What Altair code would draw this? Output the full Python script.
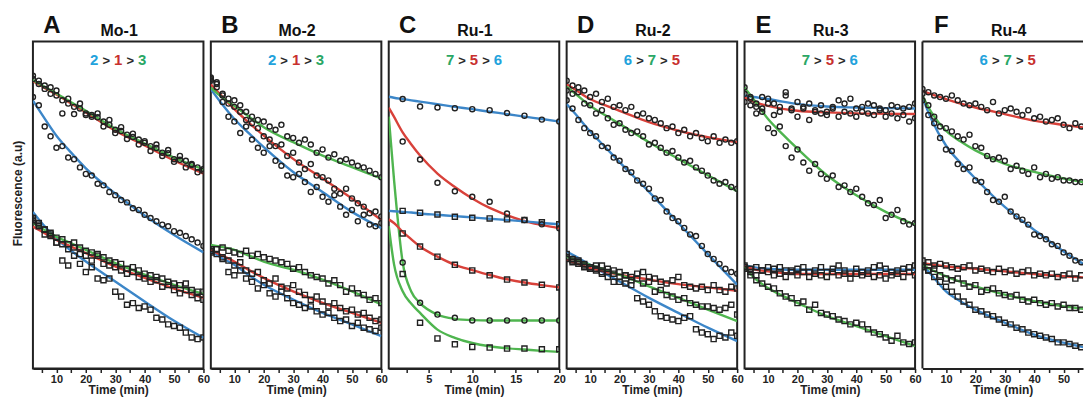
import altair as alt
import pandas as pd

# ---------------- data ----------------
T60 = [2, 5, 10, 15, 20, 30, 40, 50, 60]          # knot times of fitted curves (60-min panels)
TC = [0.4, 1, 2, 3, 4, 6, 8, 10, 12, 14, 16, 18, 20]  # knot times of fitted curves (panel C)
P60 = list(range(2, 61, 2))                       # sampling times of measured points
PC = list(range(2, 21, 2))

TICKS60 = [5, 10, 15, 20, 25, 30, 35, 40, 45, 50, 55, 60]
TICKS20 = [2.5, 5, 7.5, 10, 12.5, 15, 17.5, 20]
TICKS_F = [5, 10, 15, 20, 25, 30, 35, 40, 45, 50, 55]

LETTERS = ["A", "B", "C", "D", "E", "F"]
NAMES = ["Mo-1", "Mo-2", "Ru-1", "Ru-2", "Ru-3", "Ru-4"]
RANKS = [
    [("2", "blue"), ("1", "red"), ("3", "green")],
    [("2", "blue"), ("1", "red"), ("3", "green")],
    [("7", "green"), ("5", "red"), ("6", "blue")],
    [("6", "blue"), ("7", "green"), ("5", "red")],
    [("7", "green"), ("5", "red"), ("6", "blue")],
    [("6", "blue"), ("7", "green"), ("5", "red")],
]

# ----- Panel A (Mo-1) -----
A_fit = {
    "blue_up": [81.9, 77.8, 71.2, 66.0, 61.2, 53.5, 46.8, 40.8, 35.5],
    "red_up": [87.9, 86.3, 83.8, 81.0, 78.3, 72.7, 68.2, 63.6, 59.6],
    "green_up": [88.2, 86.6, 84.1, 81.4, 78.8, 73.3, 68.8, 64.5, 60.9],
    "blue_lo": [47.9, 44.5, 39.7, 36.0, 32.7, 26.6, 20.5, 14.6, 9.4],
    "red_lo": [43.4, 41.9, 39.3, 37.3, 35.3, 31.2, 27.7, 24.4, 21.6],
    "green_lo": [44.4, 42.9, 40.3, 38.3, 36.3, 32.2, 28.7, 25.6, 22.8],
}
A_pts = {
    "blue_up": [83.0, 80.5, 74.0, 71.0, 67.5, 68.0, 64.5, 64.0, 61.5, 59.5, 59.0, 56.5, 56.0, 54.0, 53.0,
                51.5, 50.8, 49.0, 48.5, 47.0, 46.0, 45.0, 44.0, 43.5, 42.0, 41.5, 40.5, 39.5, 38.5, 37.5],
    "red_up": [89.5, 87.0, 86.5, 84.0, 85.0, 82.0, 82.5, 80.0, 81.0, 78.0, 77.5, 76.8, 74.0, 74.5, 72.0,
               72.6, 70.2, 70.8, 68.5, 69.0, 66.5, 67.4, 65.0, 65.8, 63.2, 63.8, 61.5, 62.2, 60.0, 60.5],
    "green_up": [88.5, 88.0, 85.5, 86.0, 83.5, 78.0, 81.0, 77.8, 79.5, 77.5, 77.0, 78.0, 75.5, 76.0, 73.0,
                 73.8, 71.5, 71.8, 70.0, 69.5, 68.0, 68.5, 66.0, 66.8, 64.0, 65.0, 63.5, 62.5, 61.5, 61.0],
    "blue_lo": [45.5, 44.0, 42.5, 41.0, 38.5, 33.0, 31.5, 34.5, 32.0, 29.5, 31.0, 27.5, 27.0, 27.5, 23.5,
                22.0, 19.5, 20.0, 18.5, 19.0, 18.0, 15.5, 15.0, 13.5, 13.0, 12.5, 11.0, 9.5, 9.0, 9.5],
    "red_lo": [45.0, 44.5, 41.0, 40.5, 38.5, 38.0, 36.5, 37.0, 35.0, 34.5, 33.0, 35.0, 32.0, 31.5, 31.0,
               30.0, 29.0, 29.5, 28.0, 27.5, 26.5, 27.0, 25.0, 25.5, 24.0, 23.0, 24.0, 22.5, 21.5, 21.0],
    "green_lo": [46.0, 43.5, 42.5, 41.5, 40.0, 39.5, 38.0, 38.5, 37.0, 36.0, 35.5, 34.5, 34.0, 33.0, 32.5,
                 32.0, 30.5, 31.0, 30.0, 29.0, 28.5, 28.0, 27.5, 26.5, 26.0, 25.5, 26.0, 24.0, 23.5, 23.5],
}

# ----- Panel B (Mo-2) -----
B_fit = {
    "blue_up": [85.4, 81.8, 76.3, 71.9, 67.7, 60.1, 54.0, 47.9, 42.9],
    "red_up": [86.9, 84.0, 79.3, 75.1, 71.2, 64.1, 58.1, 52.0, 45.4],
    "green_up": [85.9, 83.5, 80.3, 77.0, 73.8, 69.2, 65.1, 61.6, 58.1],
    "blue_lo": [35.8, 34.2, 31.7, 28.5, 25.6, 21.1, 17.0, 13.5, 9.9],
    "red_lo": [36.3, 34.9, 32.7, 30.1, 27.7, 23.6, 20.1, 17.0, 14.0],
    "green_lo": [37.8, 37.3, 36.3, 34.5, 32.7, 30.2, 27.2, 23.6, 19.6],
}
B_pts = {
    "blue_up": [88.0, 86.0, 81.5, 77.0, 75.5, 72.0, 74.0, 70.0, 67.5, 66.0, 68.0, 63.5, 62.0, 59.0, 58.5,
                59.5, 57.0, 54.0, 55.5, 52.5, 51.0, 53.0, 49.5, 47.0, 48.5, 45.0, 47.0, 44.0, 43.5, 44.5],
    "red_up": [89.0, 87.5, 84.0, 82.5, 80.0, 78.5, 76.0, 75.0, 73.5, 71.0, 70.0, 68.0, 68.5, 65.0, 66.0,
               63.0, 61.0, 62.5, 59.0, 58.5, 57.5, 55.0, 53.5, 55.0, 52.0, 50.5, 49.5, 47.5, 48.0, 46.5],
    "green_up": [88.5, 87.0, 83.5, 81.0, 82.0, 80.5, 78.5, 77.0, 76.0, 75.5, 74.0, 73.0, 74.5, 71.0, 70.5,
                 69.0, 70.0, 68.5, 66.0, 67.0, 64.5, 65.5, 63.5, 64.0, 63.0, 62.0, 61.5, 60.5, 59.5, 58.5],
    "blue_lo": [36.5, 35.0, 33.5, 29.5, 28.5, 30.0, 27.5, 26.5, 24.5, 25.5, 23.0, 22.0, 23.5, 21.5, 20.0,
                19.5, 18.5, 19.0, 17.5, 16.5, 17.0, 15.5, 14.5, 15.0, 13.0, 14.0, 12.5, 12.0, 11.5, 12.5],
    "red_lo": [36.0, 36.5, 34.0, 33.0, 31.5, 32.5, 30.0, 29.0, 29.5, 27.0, 26.0, 27.5, 25.0, 24.5, 25.5,
               23.5, 22.5, 21.0, 22.0, 20.5, 19.0, 20.0, 18.5, 17.5, 18.0, 16.5, 17.0, 15.5, 14.5, 15.0],
    "green_lo": [35.5, 36.5, 37.0, 36.0, 35.5, 35.0, 36.0, 34.5, 35.0, 34.0, 33.5, 33.0, 32.5, 32.0, 30.5,
                 31.0, 29.5, 28.5, 28.0, 27.5, 26.0, 27.0, 25.5, 23.5, 24.5, 23.0, 22.5, 21.0, 21.5, 20.0],
}

# ----- Panel C (Ru-1) -----
C_fit = {
    "blue_up": [83.1, 82.8, 82.4, 82.0, 81.6, 80.8, 80.0, 79.3, 78.5, 77.8, 77.0, 76.3, 75.5],
    "red_up": [79.8, 77.0, 72.2, 68.5, 65.1, 59.6, 55.5, 52.0, 49.1, 46.9, 45.1, 43.9, 42.9],
    "green_up": [77.0, 58.0, 32.5, 23.5, 20.0, 16.5, 15.2, 14.8, 14.7, 14.7, 14.7, 14.7, 14.7],
    "blue_lo": [48.2, 48.1, 47.9, 47.7, 47.4, 47.0, 46.6, 46.2, 45.8, 45.4, 45.0, 44.5, 44.1],
    "red_lo": [45.6, 44.5, 41.8, 39.5, 37.3, 34.2, 31.7, 30.1, 28.6, 27.3, 26.3, 25.5, 24.8],
    "green_lo": [43.5, 32.0, 23.6, 19.8, 17.0, 11.9, 9.4, 7.8, 6.8, 6.2, 5.8, 5.4, 5.1],
}
C_pts = {
    "blue_up": [82.4, 80.1, 79.8, 79.6, 79.3, 79.0, 78.1, 77.3, 76.1, 75.5],
    "red_up": [69.4, 63.9, 56.8, 54.2, 52.5, 51.0, 47.4, 45.4, 44.1, 42.9],
    "green_up": [32.4, 20.1, 16.5, 15.5, 14.7, 14.7, 14.7, 14.7, 14.7, 14.7],
    "blue_lo": [48.2, 47.6, 47.1, 46.4, 46.1, 45.9, 45.6, 45.4, 44.7, 44.1],
    "red_lo": [41.3, 37.3, 34.2, 31.7, 30.0, 28.5, 27.2, 26.3, 25.6, 24.8],
    "green_lo": [28.9, 14.0, 9.2, 7.4, 6.6, 6.4, 6.1, 6.1, 5.9, 5.9],
}

# ----- Panel D (Ru-2) -----
D_fit = {
    "blue_up": [80.9, 77.8, 72.5, 67.8, 63.1, 54.0, 44.5, 35.0, 25.6],
    "red_up": [86.9, 85.2, 82.4, 80.5, 78.8, 75.3, 72.7, 70.7, 69.2],
    "green_up": [86.2, 84.0, 80.3, 77.5, 74.8, 69.2, 64.1, 59.1, 54.2],
    "blue_lo": [35.8, 34.3, 31.7, 29.1, 26.6, 21.6, 17.0, 12.5, 8.4],
    "red_lo": [33.2, 32.2, 30.7, 29.6, 28.7, 27.2, 25.8, 24.8, 23.8],
    "green_lo": [34.2, 33.2, 31.7, 30.2, 28.7, 25.1, 21.6, 18.0, 14.5],
}
D_pts = {
    "blue_up": [82.0, 79.5, 76.0, 73.5, 72.0, 71.0, 68.0, 67.5, 64.5, 63.5, 61.0, 60.0, 57.5, 56.5, 55.0,
                52.0, 51.5, 48.0, 46.0, 45.0, 43.0, 41.0, 40.5, 37.5, 35.0, 33.5, 32.0, 30.5, 29.5, 29.0],
    "red_up": [88.0, 86.5, 86.0, 85.0, 83.0, 84.0, 81.5, 82.5, 80.0, 80.5, 79.0, 80.0, 77.5, 78.0, 76.5,
               76.0, 75.0, 73.5, 74.0, 72.0, 73.0, 71.0, 72.0, 70.5, 69.5, 71.0, 69.0, 70.0, 69.0, 69.5],
    "green_up": [85.0, 84.0, 84.5, 81.0, 80.5, 78.0, 79.0, 76.5, 74.5, 75.0, 73.0, 72.0, 72.5, 71.0, 68.5,
                 69.0, 67.5, 66.0, 66.5, 64.5, 63.0, 63.5, 61.5, 60.5, 59.0, 57.5, 56.5, 57.0, 55.5, 55.0],
    "blue_lo": [33.5, 32.5, 33.0, 31.0, 30.5, 31.5, 29.0, 28.0, 26.5, 26.5, 26.0, 25.5, 21.5, 20.5, 19.5,
                17.5, 16.0, 15.5, 15.0, 14.5, 15.5, 16.0, 12.0, 11.0, 10.5, 9.0, 10.0, 9.5, 11.0, 10.0],
    "red_lo": [35.0, 33.5, 32.0, 31.5, 30.5, 30.0, 29.5, 30.5, 29.0, 29.5, 28.5, 28.0, 29.0, 29.5, 28.0,
               27.5, 26.5, 26.0, 27.0, 28.0, 25.5, 25.0, 24.5, 25.0, 24.0, 25.5, 24.0, 23.5, 25.0, 24.5],
    "green_lo": [34.0, 33.0, 32.5, 32.0, 31.0, 30.5, 31.5, 29.5, 30.0, 28.0, 28.5, 27.0, 27.5, 26.0, 26.5,
                 23.5, 24.0, 22.5, 22.0, 21.0, 21.5, 20.0, 19.5, 19.0, 19.0, 18.5, 18.0, 18.5, 19.5, 16.5],
}

# ----- Panel E (Ru-3) -----
E_fit = {
    "blue_up": [83.4, 83.0, 82.4, 81.6, 80.9, 80.1, 79.8, 79.6, 79.5],
    "red_up": [82.9, 81.6, 80.3, 79.4, 78.8, 78.3, 78.0, 77.9, 77.8],
    "green_up": [85.9, 82.4, 76.3, 71.6, 67.2, 59.1, 53.0, 47.9, 43.9],
    "blue_lo": [31.7, 31.0, 30.5, 30.3, 30.2, 30.2, 30.2, 30.2, 30.2],
    "red_lo": [31.4, 30.4, 29.7, 29.2, 28.9, 28.9, 28.9, 28.9, 28.9],
    "green_lo": [31.2, 28.0, 24.6, 22.2, 20.1, 16.0, 13.0, 9.9, 6.9],
}
E_pts = {
    "blue_up": [84.0, 82.5, 81.0, 83.0, 82.5, 81.0, 80.0, 84.5, 79.5, 81.5, 80.0, 81.0, 79.0, 80.5, 78.5,
                80.0, 82.0, 81.0, 82.5, 79.5, 80.0, 81.0, 80.5, 79.5, 79.0, 80.5, 80.0, 79.5, 80.0, 81.0],
    "red_up": [81.5, 80.5, 78.0, 79.5, 81.0, 77.5, 78.5, 83.5, 79.0, 77.0, 79.5, 76.0, 78.5, 78.0, 77.5,
               79.5, 77.0, 78.5, 78.0, 77.0, 78.5, 78.0, 77.5, 79.0, 77.0, 78.0, 76.5, 77.5, 75.5, 76.5],
    "green_up": [86.0, 83.0, 80.0, 78.5, 73.5, 72.0, 74.0, 68.0, 64.5, 67.0, 63.0, 60.5, 62.5, 59.5, 58.0,
                 59.0, 55.5, 56.0, 54.0, 55.0, 52.5, 50.5, 50.0, 51.5, 46.0, 47.0, 48.5, 45.0, 44.0, 44.5],
    "blue_lo": [31.5, 30.5, 31.0, 30.0, 31.0, 30.5, 31.0, 30.0, 29.5, 30.5, 31.0, 29.5, 30.0, 31.0, 29.5,
                30.5, 31.5, 30.0, 29.0, 30.5, 29.5, 30.0, 31.0, 31.5, 30.5, 29.5, 30.0, 30.5, 31.0, 31.5],
    "red_lo": [30.5, 29.5, 28.5, 30.0, 29.5, 28.5, 29.0, 28.0, 30.0, 28.5, 29.5, 28.0, 29.0, 28.5, 28.0,
               29.5, 28.5, 29.0, 27.5, 29.0, 28.5, 29.0, 28.0, 28.5, 27.5, 28.5, 29.0, 28.0, 29.5, 28.5],
    "green_lo": [31.0, 28.5, 27.0, 26.0, 25.0, 24.5, 23.0, 22.0, 21.5, 20.0, 20.5, 18.0, 19.5, 17.0, 16.5,
                 16.0, 15.0, 14.5, 13.5, 14.0, 13.5, 12.0, 11.0, 10.5, 9.5, 8.5, 10.0, 8.0, 7.5, 8.0],
}

# ----- Panel F (Ru-4) -----
F_fit = {
    "blue_up": [82.9, 76.3, 68.2, 62.8, 58.1, 49.4, 42.4, 35.8, 30.2],
    "red_up": [84.9, 83.9, 82.4, 81.0, 79.8, 77.8, 75.8, 74.5, 73.3],
    "green_up": [83.4, 78.4, 72.7, 69.4, 66.7, 62.6, 60.1, 58.1, 56.5],
    "blue_lo": [31.7, 28.7, 23.6, 20.5, 18.0, 14.0, 10.4, 7.9, 5.9],
    "red_lo": [32.2, 31.8, 31.2, 30.8, 30.5, 29.7, 28.9, 28.2, 27.7],
    "green_lo": [31.7, 30.2, 28.2, 26.5, 25.1, 22.6, 20.6, 19.0, 18.0],
}
F_pts = {
    "blue_up": [82.0, 77.5, 75.0, 70.5, 67.0, 66.5, 62.5, 61.0, 61.5, 57.5, 57.0, 54.0, 51.5, 51.0, 52.5,
                48.0, 46.5, 45.5, 44.0, 41.0, 40.5, 39.5, 38.0, 37.5, 35.5, 34.5, 33.0, 32.5, 31.5, 31.0],
    "red_up": [85.5, 84.5, 83.5, 83.0, 82.5, 83.5, 82.0, 81.0, 80.5, 81.0, 80.0, 79.0, 81.5, 78.0, 79.0,
               79.5, 78.5, 77.5, 79.0, 76.5, 77.0, 75.5, 76.0, 76.5, 74.5, 73.5, 75.0, 74.0, 74.5, 73.5],
    "green_up": [84.0, 80.5, 77.0, 74.0, 73.5, 72.5, 71.0, 70.0, 71.5, 68.0, 67.5, 65.0, 64.0, 64.5, 63.5,
                 61.0, 62.0, 60.5, 59.5, 61.5, 58.5, 59.5, 58.0, 58.5, 57.5, 57.5, 57.0, 57.0, 56.5, 56.5],
    "blue_lo": [31.0, 30.0, 28.0, 26.5, 25.0, 23.5, 22.0, 20.5, 19.5, 18.0, 17.5, 16.5, 16.0, 15.0, 14.0,
                13.5, 12.5, 12.0, 11.0, 10.5, 10.0, 9.5, 9.0, 8.0, 8.0, 7.5, 7.0, 6.5, 6.0, 6.0],
    "red_lo": [33.0, 32.5, 31.5, 32.0, 31.5, 31.0, 30.5, 31.0, 31.5, 30.0, 30.5, 30.0, 29.5, 30.5, 29.5,
               30.0, 29.0, 29.5, 30.0, 28.5, 29.0, 28.5, 29.0, 28.0, 28.5, 29.0, 27.5, 28.5, 28.0, 27.5],
    "green_lo": [31.5, 30.0, 30.5, 28.5, 27.5, 27.0, 27.5, 26.0, 25.0, 25.5, 23.5, 24.0, 24.5, 23.0, 22.5,
                 22.0, 22.5, 21.0, 20.5, 21.0, 20.0, 19.5, 20.0, 19.0, 19.5, 18.5, 18.5, 18.0, 18.5, 18.0],
}

# panel F is cut off by the right edge of the figure (its frame is not visible there)
PANELS = [
    (A_fit, A_pts, T60, P60, [2, 60], TICKS60, 10),
    (B_fit, B_pts, T60, P60, [2, 60], TICKS60, 10),
    (C_fit, C_pts, TC, PC, [0.4, 20], TICKS20, 5),
    (D_fit, D_pts, T60, P60, [2, 60], TICKS60, 10),
    (E_fit, E_pts, T60, P60, [2, 60], TICKS60, 10),
    (F_fit, F_pts, T60, P60, [2, 56.6], TICKS_F, 10),
]

# ---------------- style ----------------
W, H = 171, 328
W_LAST = 161
FONT = "Liberation Sans"
LINE_COLORS = ["#3c86c8", "#d8413a", "#4fb54f"]
TEXT_COLORS = {"blue": "#22a2dc", "red": "#c8302e", "green": "#2aa765", "gt": "#2a2a2a"}
INK = "#222222"


def build_panel(i):
    fit, pts, tfit, tpts, domain, ticks, major = PANELS[i]
    last = i == 5
    w = W_LAST if last else W
    frows = []
    for key, vals in fit.items():
        col, grp = key.split("_")
        for t, v in zip(tfit, vals):
            frows.append({"t": t, "v": v, "s": key, "c": col})
    prows = []
    for key, vals in pts.items():
        col, grp = key.split("_")
        for t, v in zip(tpts, vals):
            prows.append({"t": t, "v": v, "s": key, "g": grp})
    df_f = pd.DataFrame(frows)
    df_p = pd.DataFrame(prows)

    x = alt.X(
        "t:Q",
        scale=alt.Scale(domain=domain, nice=False, zero=False),
        axis=alt.Axis(
            values=ticks,
            labelExpr=f"datum.value % {major} == 0 ? datum.label : ''",
            title="Time (min)",
            grid=False,
        ),
    )
    if i == 0:
        yaxis = alt.Axis(title="Fluorescence (a.u)", labels=False, ticks=False, domain=False,
                         grid=False, titlePadding=8, titleY=152, titleFontSize=12,
                         titleColor=INK, titleFontWeight="bold", titleFont=FONT)
        y = alt.Y("v:Q", scale=alt.Scale(domain=[0, 100], nice=False), axis=yaxis)
    else:
        y = alt.Y("v:Q", scale=alt.Scale(domain=[0, 100], nice=False), axis=None)

    lines = alt.Chart(df_f).mark_line(strokeWidth=2.4, interpolate="monotone", clip=True).encode(
        x=x, y=y,
        color=alt.Color("c:N", scale=alt.Scale(domain=["blue", "red", "green"], range=LINE_COLORS),
                        legend=None),
        detail="s:N",
    )
    points = alt.Chart(df_p).mark_point(filled=False, strokeWidth=1.4, size=26, color=INK, opacity=1,
                                        clip=True).encode(
        x=x, y=y,
        shape=alt.Shape("g:N", scale=alt.Scale(domain=["up", "lo"], range=["circle", "square"]),
                        legend=None),
        detail="s:N",
    )

    one = pd.DataFrame({"k": [0]})
    letter = alt.Chart(one).mark_text(text=LETTERS[i], font=FONT, fontSize=24, fontWeight="bold",
                                      color="#111", align="center", baseline="alphabetic").encode(
        x=alt.value(19), y=alt.value(-8))
    name = alt.Chart(one).mark_text(text=NAMES[i], font=FONT, fontSize=16, fontWeight="bold",
                                    color="#111", align="center", baseline="alphabetic").encode(
        x=alt.value(W / 2 + 1), y=alt.value(-5))

    parts = [RANKS[i][0], (">", "gt"), RANKS[i][1], (">", "gt"), RANKS[i][2]]
    offsets = [-24, -12, 0, 12, 24]
    layers = [lines, points, letter, name]
    for (txt, col), off in zip(parts, offsets):
        layers.append(
            alt.Chart(one).mark_text(text=txt, font=FONT, fontSize=15 if txt != ">" else 13,
                                     fontWeight="bold", color=TEXT_COLORS[col], align="center",
                                     baseline="alphabetic").encode(
                x=alt.value(W / 2 + off), y=alt.value(24))
        )
    if last:
        # open frame: left and top edges only (the right edge lies beyond the figure)
        layers.append(alt.Chart(one).mark_rule(color=INK, strokeWidth=2).encode(
            x=alt.value(0), y=alt.value(0), y2=alt.value(H)))
        layers.append(alt.Chart(one).mark_rule(color=INK, strokeWidth=2).encode(
            x=alt.value(0), x2=alt.value(w), y=alt.value(0)))
        return alt.layer(*layers).properties(width=w, height=H,
                                             view=alt.ViewBackground(strokeWidth=0, strokeOpacity=0))
    return alt.layer(*layers).properties(width=w, height=H)


chart = alt.hconcat(*[build_panel(i) for i in range(6)], spacing=7.4, bounds="flush").properties(
    padding={"left": 3, "top": 5, "right": 0, "bottom": 0}
).configure_view(
    stroke=INK, strokeWidth=2
).configure_axis(
    labelFont=FONT, titleFont=FONT, labelFontWeight="bold", titleFontWeight="bold",
    labelColor=INK, titleColor=INK, tickColor=INK, domainColor=INK,
).configure_axisX(
    labelFontSize=11, titleFontSize=12, tickSize=4, tickWidth=1.5, domainWidth=2,
    labelPadding=1, titlePadding=0, labelFlush=False,
)

chart.save("out.html", embed_options={"renderer": "svg", "actions": False})
